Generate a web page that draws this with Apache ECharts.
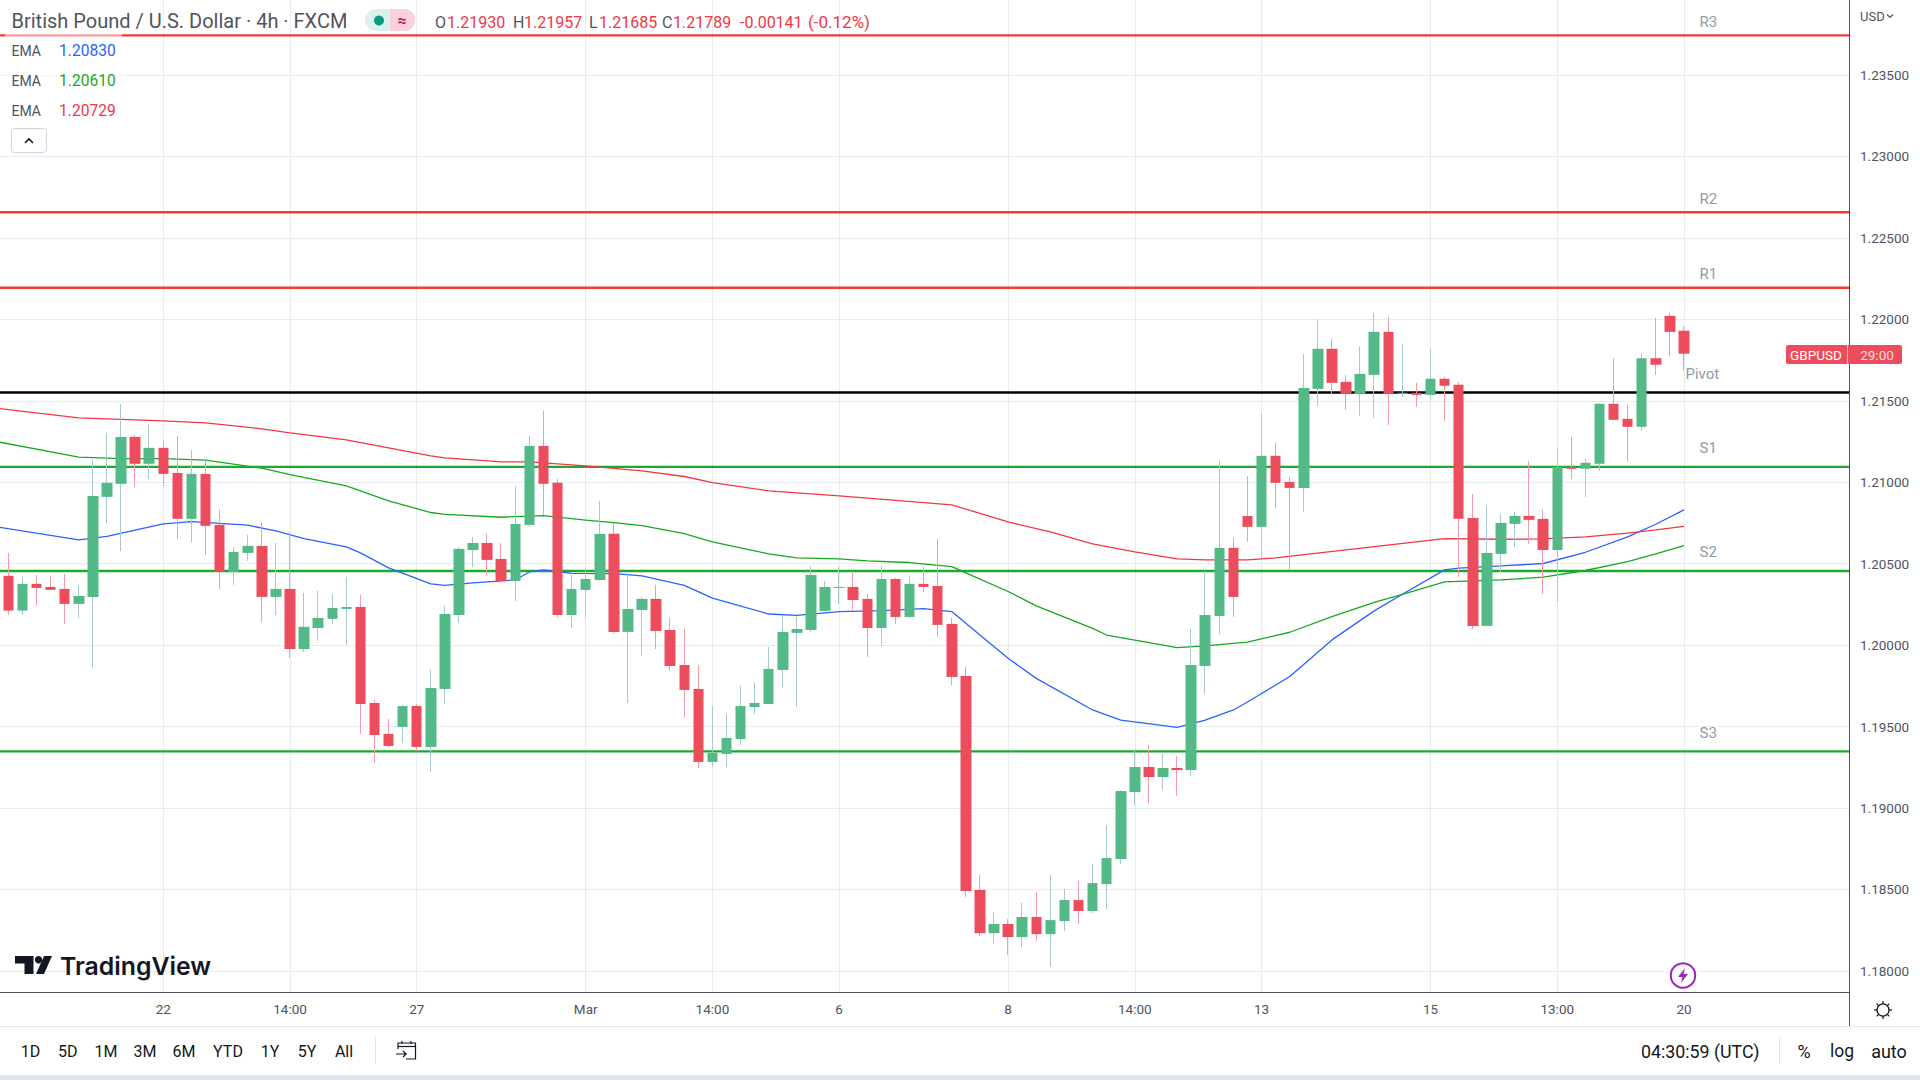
<!DOCTYPE html>
<html>
<head>
<meta charset="utf-8">
<title>GBPUSD 4h</title>
<style>
html, body { margin: 0; padding: 0; background: #fff; }
#main { width: 1920px; height: 1080px; }
</style>
<script src="https://cdn.jsdelivr.net/npm/echarts@6/dist/echarts.min.js"></script>
</head>
<body>
<div id="main"></div>
<script>
// candles, oldest first
const opens = [
  1.20425,1.20212,1.20376,1.20357,1.20345,1.20253,1.20296,1.20910,1.20990,1.21278,
  1.21113,1.21211,1.21057,1.20775,1.21051,1.20738,1.20449,1.20566,1.20609,1.20296,
  1.20345,1.19976,1.20105,1.20161,1.20222,1.20234,1.19645,1.19455,1.19498,1.19626,
  1.19375,1.19731,1.20185,1.20584,1.20627,1.20529,1.20394,1.20738,1.21223,1.20996,
  1.20185,1.20339,1.20400,1.20683,1.20081,1.20216,1.20284,1.20093,1.19878,1.19731,
  1.19283,1.19332,1.19424,1.19620,1.19639,1.19848,1.20075,1.20093,1.20210,1.20351,
  1.20357,1.20284,1.20105,1.20406,1.20173,1.20376,1.20363,1.20130,1.19811,1.18497,
  1.18232,1.18288,1.18208,1.18331,1.18226,1.18306,1.18435,1.18368,1.18533,1.18687,
  1.19098,1.19252,1.19190,1.19246,1.19233,1.19872,1.20179,1.20597,1.20793,1.20726,
  1.21162,1.21002,1.20965,1.21573,1.21819,1.21616,1.21542,1.21659,1.21923,1.21542,
  1.21549,1.21536,1.21635,1.21598,1.20781,1.20118,1.20560,1.20744,1.20793,1.20775,
  1.20584,1.21094,1.21082,1.21113,1.21481,1.21389,1.21340,1.21761,1.22021,1.21930
];
const closes = [
  1.20212,1.20376,1.20351,1.20339,1.20253,1.20302,1.20916,1.20996,1.21278,1.21113,
  1.21211,1.21051,1.20775,1.21051,1.20732,1.20449,1.20572,1.20609,1.20296,1.20345,
  1.19976,1.20112,1.20167,1.20228,1.20234,1.19639,1.19448,1.19381,1.19626,1.19375,
  1.19737,1.20191,1.20591,1.20627,1.20523,1.20394,1.20744,1.21223,1.20990,1.20185,
  1.20345,1.20406,1.20683,1.20081,1.20222,1.20284,1.20087,1.19872,1.19725,1.19283,
  1.19338,1.19430,1.19626,1.19645,1.19854,1.20081,1.20099,1.20431,1.20357,1.20357,
  1.20277,1.20105,1.20406,1.20173,1.20376,1.20357,1.20124,1.19805,1.18490,1.18232,
  1.18288,1.18208,1.18331,1.18226,1.18312,1.18435,1.18368,1.18539,1.18693,1.19104,
  1.19252,1.19190,1.19246,1.19233,1.19878,1.20185,1.20597,1.20296,1.20726,1.21162,
  1.20996,1.20965,1.21579,1.21819,1.21610,1.21542,1.21665,1.21923,1.21542,1.21549,
  1.21536,1.21635,1.21592,1.20775,1.20118,1.20566,1.20750,1.20793,1.20769,1.20584,
  1.21094,1.21082,1.21119,1.21481,1.21383,1.21340,1.21761,1.21721,1.21923,1.21789
];
const lows = [
  1.20185,1.20185,1.20241,1.20339,1.20130,1.20167,1.19862,1.20750,1.20578,1.20971,
  1.21020,1.20977,1.20652,1.20629,1.20554,1.20345,1.20370,1.20517,1.20142,1.20185,
  1.19921,1.19958,1.20026,1.20130,1.20001,1.19455,1.19276,1.19373,1.19399,1.19350,
  1.19221,1.19639,1.20136,1.20480,1.20431,1.20382,1.20271,1.20726,1.20799,1.20167,
  1.20105,1.20167,1.20394,1.20073,1.19645,1.19934,1.19976,1.19841,1.19553,1.19246,
  1.19252,1.19252,1.19387,1.19577,1.19639,1.19743,1.19620,1.20081,1.20210,1.20253,
  1.20216,1.19927,1.19995,1.20130,1.20167,1.20327,1.20050,1.19755,1.18454,1.18214,
  1.18165,1.18097,1.18146,1.18183,1.18024,1.18245,1.18288,1.18355,1.18380,1.18656,
  1.19019,1.19031,1.19111,1.19074,1.19197,1.19700,1.20069,1.20173,1.20634,1.20541,
  1.20842,1.20462,1.20818,1.21469,1.21542,1.21444,1.21407,1.21395,1.21352,1.21524,
  1.21463,1.21506,1.21377,1.20419,1.20099,1.20118,1.20443,1.20603,1.20621,1.20314,
  1.20265,1.21020,1.20910,1.21070,1.21383,1.21125,1.21315,1.21659,1.21772,1.21685
];
const highs = [
  1.20566,1.20413,1.20431,1.20425,1.20437,1.20363,1.21137,1.21303,1.21481,1.21291,
  1.21358,1.21248,1.21285,1.21199,1.21137,1.20830,1.20603,1.20677,1.20750,1.20627,
  1.20695,1.20320,1.20333,1.20314,1.20419,1.20308,1.19663,1.19547,1.19633,1.19639,
  1.19848,1.20241,1.20603,1.20664,1.20683,1.20627,1.20977,1.21285,1.21438,1.21020,
  1.20441,1.20468,1.20885,1.20750,1.20441,1.20296,1.20370,1.20167,1.20099,1.19878,
  1.19626,1.19577,1.19749,1.19768,1.19989,1.20185,1.20173,1.20486,1.20394,1.20480,
  1.20455,1.20314,1.20486,1.20413,1.20425,1.20480,1.20652,1.20167,1.19866,1.18589,
  1.18361,1.18318,1.18417,1.18484,1.18589,1.18503,1.18552,1.18656,1.18896,1.19111,
  1.19362,1.19387,1.19332,1.19319,1.20099,1.20455,1.21131,1.20658,1.21039,1.21420,
  1.21242,1.21033,1.21788,1.21997,1.21880,1.21659,1.21833,1.22040,1.22015,1.21850,
  1.21610,1.21819,1.21647,1.21616,1.20928,1.20855,1.20806,1.20818,1.21131,1.20830,
  1.21205,1.21278,1.21143,1.21487,1.21761,1.21475,1.21792,1.22009,1.22040,1.21957
];

// moving averages, read at the bends of each line
const emaBlueAt = [-1,5,7,11,13,17,19,21,24,25,27,30,31,33,36,37,38,40,43,45,48,50,54,56,59,62,65,67,69,71,73,77,79,83,85,87,88,91,94,97,99,102,103,106,109,112,115,117,119];
const emaBlue = [1.20728,1.20646,1.20668,1.20744,1.20758,1.20736,1.20701,1.20654,1.20603,1.20566,1.20474,1.20376,1.20367,1.20382,1.20400,1.20449,1.20462,1.20441,1.20439,1.20425,1.20367,1.20288,1.20191,1.20183,1.20206,1.20212,1.20224,1.20206,1.20062,1.19919,1.19796,1.19602,1.19540,1.19495,1.19540,1.19602,1.19651,1.19807,1.20032,1.20210,1.20312,1.20462,1.20472,1.20486,1.20501,1.20570,1.20664,1.20742,1.20830];
const emaGreenAt = [-1,5,8,11,14,18,20,24,27,30,31,35,38,41,43,45,48,50,54,56,59,61,64,67,68,71,73,77,78,83,85,88,91,94,97,99,102,104,106,109,112,115,117,119];
const emaGreen = [1.21252,1.21154,1.21145,1.21145,1.21135,1.21086,1.21047,1.20977,1.20885,1.20814,1.20803,1.20785,1.20795,1.20767,1.20752,1.20734,1.20685,1.20634,1.20560,1.20535,1.20529,1.20517,1.20507,1.20482,1.20443,1.20329,1.20241,1.20103,1.20062,1.19985,1.19995,1.20019,1.20079,1.20175,1.20263,1.20312,1.20388,1.20394,1.20400,1.20417,1.20458,1.20513,1.20560,1.20610];
const emaRedAt = [-1,5,11,14,18,20,24,27,30,31,35,37,41,45,48,50,54,59,63,67,71,74,77,80,83,85,88,90,102,106,109,112,115,117,119];
const emaRed = [1.21456,1.21395,1.21377,1.21364,1.21328,1.21303,1.21260,1.21211,1.21162,1.21149,1.21125,1.21125,1.21100,1.21070,1.21035,1.20998,1.20947,1.20916,1.20889,1.20861,1.20756,1.20695,1.20621,1.20572,1.20529,1.20523,1.20523,1.20535,1.20654,1.20650,1.20652,1.20664,1.20687,1.20707,1.20729];

// pivot levels
const levelNames = ['R3','R2','R1','Pivot','S1','S2','S3'];
const levelValues = [1.23743,1.22657,1.22194,1.21551,1.21094,1.20455,1.19348];

// axes
const priceTicks = [1.18,1.185,1.19,1.195,1.2,1.205,1.21,1.215,1.22,1.225,1.23,1.235];
const timeTickAt = [11,20,29,41,50,59,71,80,89,101,110,119];
const timeTickLabels = ['22','14:00','27','Mar','14:00','6','8','14:00','13','15','13:00','20'];
const rangeButtons = ['1D','5D','1M','3M','6M','YTD','1Y','5Y','All'];

const UI_FONT = 'Roboto';
const MUTED = '#50535e';
const UP = '#53b987', DOWN = '#eb4d5c';
const X_MIN = -0.597, X_MAX = 130.72, Y_MIN = 1.178707, Y_MAX = 1.2396;

const candleIdx = opens.map((_, i) => i);
const wickData = candleIdx.map(i => [i, opens[i], closes[i], lows[i], highs[i]]);
const bodyData = candleIdx.map(i => [i, opens[i], closes[i], Math.min(opens[i], closes[i]), Math.max(opens[i], closes[i])]);

const pair = (xs, ys) => xs.map((x, i) => [x, ys[i]]);
const levelSeries = levelNames.map((name, i) => ({
  type: 'line', name, z: 2, symbol: 'none', silent: true,
  data: [[X_MIN, levelValues[i]], [X_MAX, levelValues[i]]],
  lineStyle: { width: 2.4, color: name === 'Pivot' ? '#000000' : name[0] === 'R' ? '#f23a30' : '#1aab2a' }
}));
const emaSeries = (name, xs, ys, color) => ({
  type: 'line', name, z: 3, symbol: 'none', silent: true, data: pair(xs, ys),
  lineStyle: { width: 1.3, color }
});

const txt = (x, y, text, fill, o) => Object.assign({
  type: 'text', z: 24, silent: true,
  style: Object.assign({
    x, y, text, fill, font: '16px ' + UI_FONT, textVerticalAlign: 'middle', textAlign: 'left'
  }, o || {})
});
const EMA_LABEL = { font: '14px ' + UI_FONT };
const EMA_VALUE = { font: '15.6px ' + UI_FONT };

const graphics = [
  // legend backdrop
  { type: 'rect', z: 10, silent: true, shape: { x: 5, y: 30, width: 117, height: 100 }, style: { fill: 'rgba(255,255,255,0.5)' } },
  txt(11.5, 21, 'British Pound / U.S. Dollar · 4h · FXCM', '#50535e', { font: '20px ' + UI_FONT }),
  { type: 'rect', z: 20, silent: true, shape: { x: 365, y: 9, width: 50, height: 22, r: [11, 11, 11, 11] }, style: { fill: '#dcf1ee' } },
  { type: 'rect', z: 21, silent: true, shape: { x: 390, y: 9, width: 25, height: 22, r: [0, 11, 11, 0] }, style: { fill: '#fbd0de' } },
  { type: 'circle', z: 22, silent: true, shape: { cx: 379, cy: 20.5, r: 5 }, style: { fill: '#089981' } },
  txt(402, 20, '≈', '#c2185b', { font: 'bold 16px ' + UI_FONT, textAlign: 'center' }),
  txt(435, 22, 'O', MUTED), txt(447, 22, '1.21930', '#f23645'),
  txt(513, 22, 'H', MUTED), txt(524, 22, '1.21957', '#f23645'),
  txt(589, 22, 'L', MUTED), txt(599, 22, '1.21685', '#f23645'),
  txt(662, 22, 'C', MUTED), txt(673, 22, '1.21789', '#f23645'),
  txt(740, 22, '-0.00141', '#f23645'), txt(808, 22, '(-0.12%)', '#f23645', { font: '17px ' + UI_FONT }),
  txt(11.5, 51, 'EMA', MUTED, EMA_LABEL), txt(59, 51, '1.20830', '#2962ff', EMA_VALUE),
  txt(11.5, 81, 'EMA', MUTED, EMA_LABEL), txt(59, 81, '1.20610', '#17a821', EMA_VALUE),
  txt(11.5, 111, 'EMA', MUTED, EMA_LABEL), txt(59, 111, '1.20729', '#f23645', EMA_VALUE),
  { type: 'rect', z: 20, silent: true, shape: { x: 11.5, y: 128.5, width: 35, height: 24, r: 3 }, style: { fill: '#fff', stroke: '#d1d4dc', lineWidth: 1 } },
  { type: 'polyline', z: 21, silent: true, shape: { points: [[25, 143], [29, 139], [33, 143]] }, style: { stroke: '#131722', lineWidth: 1.6, fill: null } },
  // price axis extras
  txt(1860, 16, 'USD', MUTED, { font: '13px ' + UI_FONT }),
  { type: 'polyline', z: 21, silent: true, shape: { points: [[1887, 14.5], [1890, 17.5], [1893, 14.5]] }, style: { stroke: MUTED, lineWidth: 1.2, fill: null } },
  { type: 'rect', z: 20, silent: true, shape: { x: 1786, y: 345, width: 116, height: 19, r: 2 }, style: { fill: DOWN } },
  { type: 'line', z: 21, silent: true, shape: { x1: 1847.5, y1: 345, x2: 1847.5, y2: 364 }, style: { stroke: '#fff', lineWidth: 1, opacity: 0.6 } },
  txt(1816, 355, 'GBPUSD', '#ffffff', { font: '13.5px ' + UI_FONT, textAlign: 'center' }),
  txt(1877, 355, '29:00', '#ffd9dd', { font: '13.5px ' + UI_FONT, textAlign: 'center' }),
  // purple flash marker
  { type: 'circle', z: 20, silent: true, shape: { cx: 1683, cy: 975.5, r: 12.2 }, style: { fill: '#fff', stroke: '#9c27b0', lineWidth: 2 } },
  { type: 'polygon', z: 21, silent: true, shape: { points: [[1685, 968], [1678, 977], [1682.5, 977], [1681, 983], [1688, 974], [1683.5, 974]] }, style: { fill: '#9c27b0' } },
  // logo
  { type: 'polygon', z: 20, silent: true, shape: { points: [[15, 956], [33.5, 956], [33.5, 974], [24.5, 974], [24.5, 963.5], [15, 963.5]] }, style: { fill: '#131722' } },
  { type: 'circle', z: 20, silent: true, shape: { cx: 38.5, cy: 959.7, r: 3.7 }, style: { fill: '#131722' } },
  { type: 'polygon', z: 20, silent: true, shape: { points: [[44, 956], [52, 956], [44, 974], [36, 974]] }, style: { fill: '#131722' } },
  txt(60, 966, 'TradingView', '#131722', { font: '600 24.8px Inter' }),
  // axis joins and toolbar
  { type: 'line', z: 5, silent: true, shape: { x1: 1849.5, y1: 992, x2: 1849.5, y2: 1026 }, style: { stroke: MUTED, lineWidth: 1 } },
  { type: 'line', z: 5, silent: true, shape: { x1: 0, y1: 1026.5, x2: 1920, y2: 1026.5 }, style: { stroke: '#e0e3eb', lineWidth: 1 } },
  { type: 'rect', z: 5, silent: true, shape: { x: 0, y: 1075, width: 1920, height: 5 }, style: { fill: '#e0e3eb' } },
  { type: 'circle', z: 20, silent: true, shape: { cx: 1883, cy: 1010, r: 6 }, style: { fill: '#fff', stroke: '#131722', lineWidth: 1.2 } },
  ...[0, 45, 90, 135].map(a => ({
    type: 'line', z: 19, silent: true,
    shape: {
      x1: 1883 - 9 * Math.cos(a * Math.PI / 180), y1: 1010 - 9 * Math.sin(a * Math.PI / 180),
      x2: 1883 + 9 * Math.cos(a * Math.PI / 180), y2: 1010 + 9 * Math.sin(a * Math.PI / 180)
    },
    style: { stroke: '#131722', lineWidth: 1.2 }
  })),
  ...rangeButtons.map((t, i) => txt([30.6, 67.8, 106, 145, 184, 228, 270, 307, 344][i], 1051, t, '#131722', { textAlign: 'center', font: '16px ' + UI_FONT })),
  { type: 'line', z: 5, silent: true, shape: { x1: 375.5, y1: 1037, x2: 375.5, y2: 1064 }, style: { stroke: '#e0e3eb', lineWidth: 1 } },
  // go-to-date icon
  { type: 'polyline', z: 20, silent: true, shape: { points: [[398, 1049], [398, 1043], [415.5, 1043], [415.5, 1059], [406, 1059]] }, style: { stroke: '#131722', lineWidth: 1.2, fill: null } },
  { type: 'line', z: 20, silent: true, shape: { x1: 398, y1: 1046.5, x2: 415.5, y2: 1046.5 }, style: { stroke: '#131722', lineWidth: 1.2 } },
  { type: 'line', z: 20, silent: true, shape: { x1: 402, y1: 1041, x2: 402, y2: 1044 }, style: { stroke: '#131722', lineWidth: 1.2 } },
  { type: 'line', z: 20, silent: true, shape: { x1: 411, y1: 1041, x2: 411, y2: 1044 }, style: { stroke: '#131722', lineWidth: 1.2 } },
  { type: 'polyline', z: 20, silent: true, shape: { points: [[396, 1054], [406, 1054], [403, 1051], [406, 1054], [403, 1057]] }, style: { stroke: '#131722', lineWidth: 1.2, fill: null } },
  txt(1641, 1051, '04:30:59 (UTC)', '#131722', { font: '17.8px ' + UI_FONT }),
  { type: 'line', z: 5, silent: true, shape: { x1: 1779.5, y1: 1037, x2: 1779.5, y2: 1064 }, style: { stroke: '#e0e3eb', lineWidth: 1 } },
  txt(1804, 1051, '%', '#131722', { font: '18px ' + UI_FONT, textAlign: 'center' }),
  txt(1842, 1051, 'log', '#131722', { font: '17.5px ' + UI_FONT, textAlign: 'center' }),
  txt(1889, 1051, 'auto', '#131722', { font: '18px ' + UI_FONT, textAlign: 'center' })
];

const chart = echarts.init(document.getElementById('main'), null, { renderer: 'svg' });
chart.setOption({
  animation: false,
  backgroundColor: '#ffffff',
  grid: { left: 0, right: 71, top: 0, bottom: 88 },
  xAxis: {
    type: 'value', min: X_MIN, max: X_MAX,
    axisLine: { onZero: false, lineStyle: { color: MUTED, width: 1 } },
    axisTick: { show: false, customValues: timeTickAt },
    axisLabel: {
      customValues: timeTickAt, margin: 10, color: MUTED,
      fontFamily: UI_FONT, fontSize: 13.5,
      formatter: v => timeTickLabels[timeTickAt.indexOf(v)]
    },
    splitLine: { show: true, lineStyle: { color: '#e6ecf2', width: 1 } }
  },
  yAxis: {
    type: 'value', position: 'right', min: Y_MIN, max: Y_MAX,
    axisLine: { show: true, onZero: false, lineStyle: { color: MUTED, width: 1 } },
    axisTick: { show: false, customValues: priceTicks },
    axisLabel: {
      customValues: priceTicks, margin: 11, color: MUTED,
      fontFamily: UI_FONT, fontSize: 13.5,
      formatter: v => v.toFixed(5)
    },
    splitLine: { show: true, lineStyle: { color: '#e6ecf2', width: 1 } }
  },
  series: [
    ...levelSeries,
    emaSeries('EMA blue', emaBlueAt, emaBlue, '#2962ff'),
    emaSeries('EMA green', emaGreenAt, emaGreen, '#17a821'),
    emaSeries('EMA red', emaRedAt, emaRed, '#f23645'),
    {
      type: 'candlestick', name: 'wicks', z: 4, silent: true, barWidth: 1,
      data: wickData,
      itemStyle: { color: '#a6c9cb', color0: '#f59aa6', borderColor: '#a6c9cb', borderColor0: '#f59aa6', borderWidth: 1 }
    },
    {
      type: 'candlestick', name: 'GBPUSD', z: 5, silent: true, barWidth: 11,
      data: bodyData,
      itemStyle: { color: UP, color0: DOWN, borderColor: UP, borderColor0: DOWN, borderWidth: 0 }
    },
    {
      type: 'scatter', name: 'level labels', z: 6, silent: true, symbolSize: 0,
      data: levelNames.map((name, i) => ({
        name,
        value: [name === 'Pivot' ? 118.75 : 119.75, levelValues[i]],
        label: { offset: [0, name[0] === 'R' ? -13.5 : -18.5] }
      })),
      label: {
        show: true, formatter: '{b}', position: 'right', color: '#6f8090',
        fontFamily: UI_FONT, fontSize: 15
      }
    }
  ],
  graphic: graphics
});
</script>
</body>
</html>
